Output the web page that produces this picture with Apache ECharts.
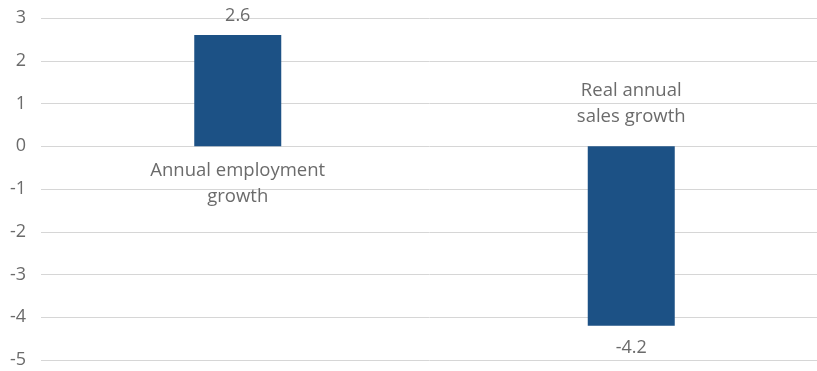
<!DOCTYPE html>
<html>
<head>
<meta charset="utf-8">
<script src="https://cdn.jsdelivr.net/npm/echarts@6/dist/echarts.min.js"></script>
<style>
  html, body { margin: 0; padding: 0; background: #fff; }
  #chart { width: 817px; height: 371px; }
</style>
</head>
<body>
<div id="chart"></div>
<script>
// Growth indicators (per cent)
const categories = ['Annual employment\ngrowth', 'Real annual\nsales growth'];
const growthValues = [2.6, -4.2];
const yTicks = { min: -5, max: 3, interval: 1 };

const TEXT = '#6b6b6b';
const BAR = '#1c5185';
const FONT = '"Open Sans", sans-serif';

const chart = echarts.init(document.getElementById('chart'), null, { renderer: 'canvas' });

chart.setOption({
  animation: false,
  grid: { left: 41, right: -11, top: 18, bottom: 11, containLabel: false, outerBoundsMode: 'none' },
  xAxis: {
    type: 'category',
    data: categories,
    axisLine: { show: false },
    axisTick: { show: false },
    axisLabel: { show: false },
    splitLine: { show: false }
  },
  yAxis: {
    type: 'value',
    min: yTicks.min,
    max: yTicks.max,
    interval: yTicks.interval,
    axisLine: { show: false },
    axisTick: { show: false },
    axisLabel: { color: TEXT, fontSize: 18, fontFamily: FONT, margin: 15 },
    splitLine: { lineStyle: { color: '#d6d6d6', width: 1 } }
  },
  series: [
    {
      // bars with value labels at the outer end
      type: 'bar',
      barWidth: 87,
      barGap: '-100%',
      itemStyle: { color: BAR },
      label: {
        show: true,
        color: TEXT,
        fontSize: 18,
        fontFamily: FONT,
        formatter: p => p.value.toFixed(1)
      },
      data: growthValues.map(v => ({
        value: v,
        label: v >= 0 ? { position: 'top', distance: 10 } : { position: 'bottom', distance: 13 }
      }))
    },
    {
      // category names on the opposite side of the zero line
      type: 'bar',
      barWidth: 87,
      barGap: '-100%',
      silent: true,
      itemStyle: { color: 'rgba(0,0,0,0)' },
      label: {
        show: true,
        color: TEXT,
        fontSize: 18.5,
        fontFamily: FONT,
        lineHeight: 26,
        align: 'center',
        formatter: p => p.name
      },
      data: growthValues.map(v => ({
        value: v,
        label: v >= 0 ? { position: 'bottom', distance: 11 } : { position: 'top', distance: 17 }
      }))
    }
  ]
});
</script>
</body>
</html>
